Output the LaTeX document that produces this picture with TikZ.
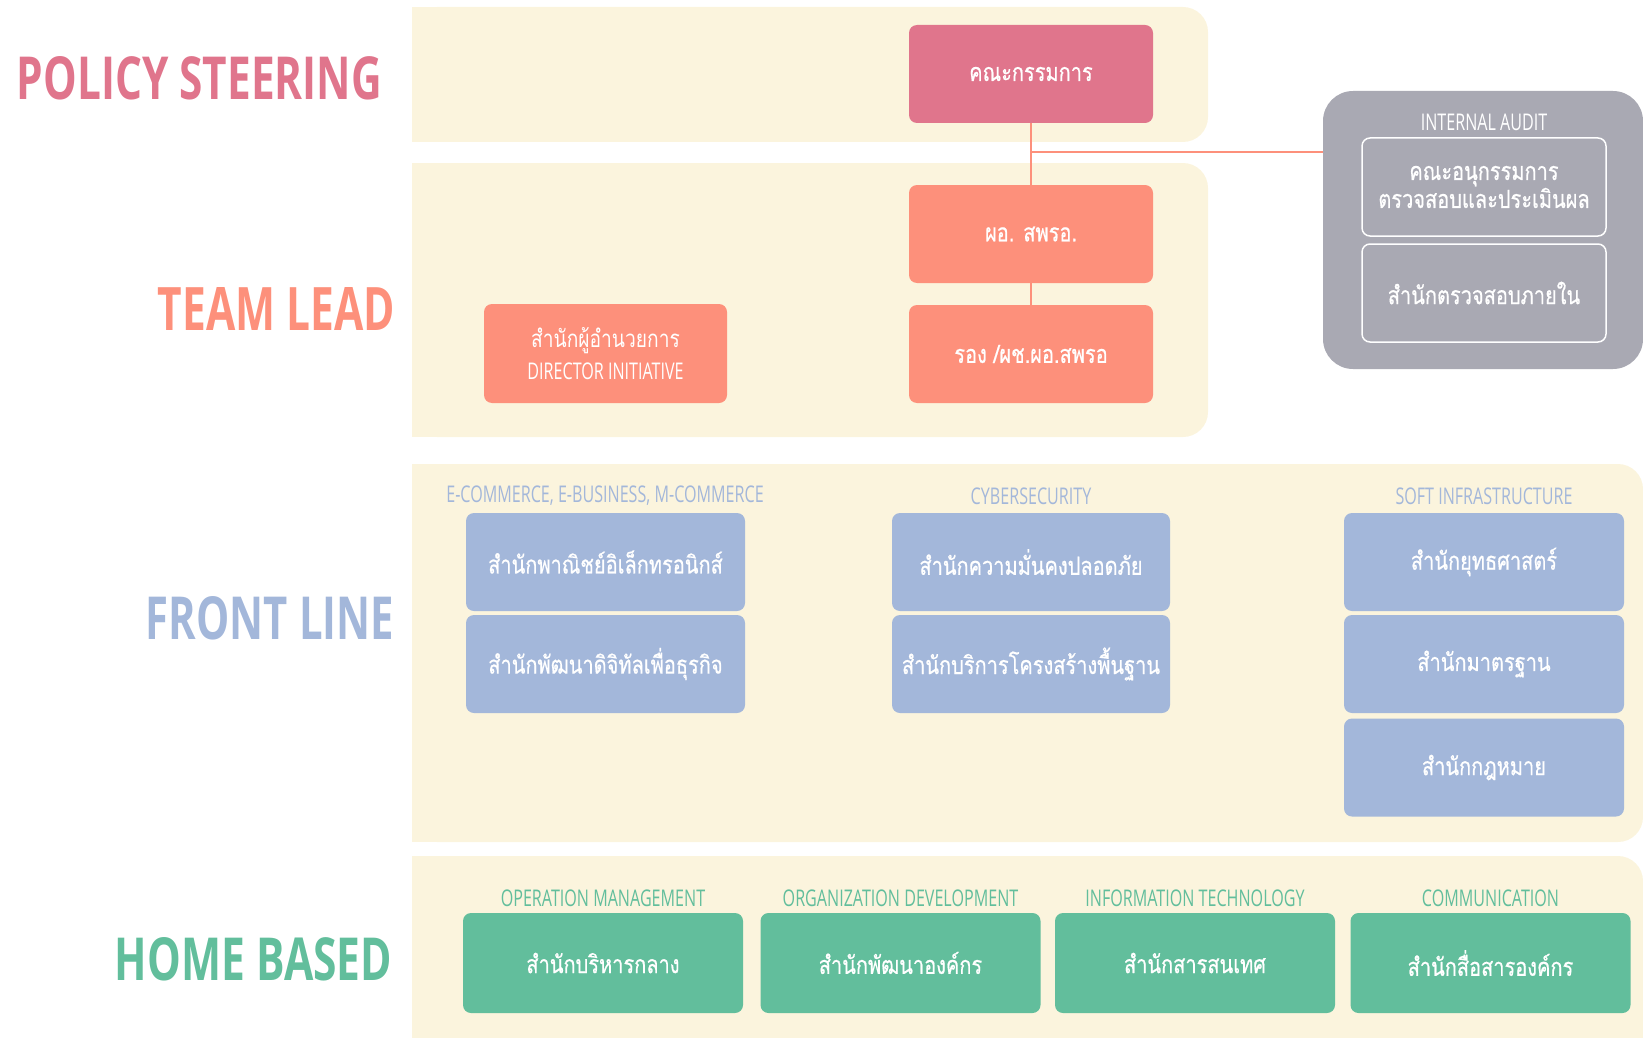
\documentclass[tikz,border=0pt]{standalone}
\usepackage{fontspec}
\usepackage{graphicx}
\setmainfont{Open Sans}
\newfontfamily\thaifont[Script=Thai, FakeStretch=0.8, FakeBold=0.6]{Loma}
\newfontfamily\thailight[Script=Thai, FakeStretch=0.8]{Loma}
\definecolor{cream}{HTML}{FBF4DD}
\definecolor{pinkc}{HTML}{E0758C}
\definecolor{salmon}{HTML}{FD907B}
\definecolor{blueb}{HTML}{A3B7DA}
\definecolor{greenb}{HTML}{62BE9C}
\definecolor{greyb}{HTML}{A9A9B3}
\newcommand{\condtxt}[1]{\scalebox{0.7}[1]{\fontsize{23}{23}\selectfont #1}}
\newcommand{\bigtxt}[2]{\resizebox{#1pt}{43pt}{\bfseries #2}}
\tikzset{
  band/.style={fill=cream},
  unit/.style={rounded corners=8pt, minimum width=#1, minimum height=98pt, inner sep=0pt,
    text=white, align=center, font=\thaifont\fontsize{25}{33}\selectfont},
  unit/.default=244pt,
  catlab/.style={inner sep=0pt, anchor=center},
  biglab/.style={inner sep=0pt, anchor=center},
  link/.style={draw=salmon, line width=2.5pt}
}
\begin{document}
\begin{tikzpicture}[x=1pt,y=-1pt]
\clip (0,0) rectangle (1643,1038);
% bands
\fill[band, rounded corners=25pt] (412,7) rectangle (1208,142);
\fill[band] (412,7) rectangle (700,142);
\fill[band, rounded corners=25pt] (412,163) rectangle (1208,437);
\fill[band] (412,163) rectangle (700,437);
\fill[band, rounded corners=25pt] (412,464) rectangle (1643,842);
\fill[band] (412,464) rectangle (700,842);
\fill[band, rounded corners=25pt] (412,856) rectangle (1643,1080);
\fill[band] (412,856) rectangle (700,1080);

% left labels
\node[biglab, text=pinkc] (lpolicy) at (199.5,78.5) {\bigtxt{365}{POLICY STEERING}};
\node[biglab, text=salmon] (lteam) at (276.5,309) {\bigtxt{237}{TEAM LEAD}};
\node[biglab, text=blueb] (lfront) at (270,618) {\bigtxt{248}{FRONT LINE}};
\node[biglab, text=greenb] (lhome) at (253.5,959) {\bigtxt{277}{HOME BASED}};

% internal audit container
\node[fill=greyb, rounded corners=30pt, minimum width=320pt, minimum height=278pt, inner sep=0pt] (audit) at (1483,230) {};
\node[catlab, text=white] (auditlab) at (1484,122) {\condtxt{INTERNAL AUDIT}};
\node[unit, draw=white, line width=1.5pt, fill=greyb, font=\thaifont\fontsize{25}{28}\selectfont] (sub) at (1484,187) {คณะอนุกรรมการ\\ตรวจสอบและประเมินผล};
\node[unit, draw=white, line width=1.5pt, fill=greyb] (iaoff) at (1484,293) {สำนักตรวจสอบภายใน};

% policy / team lead
\node[unit, fill=pinkc] (board) at (1031,74) {คณะกรรมการ};
\node[unit, fill=salmon] (dir) at (1031,234) {ผอ. สพรอ.};
\node[unit, fill=salmon] (dep) at (1031,354) {รอง /ผช.ผอ.สพรอ};
\node[unit=243pt, fill=salmon, minimum height=99pt, font=\thailight\fontsize{24}{30}\selectfont] (dinit) at (605.5,353.5) {สำนักผู้อำนวยการ\\[2pt]\normalfont\condtxt{DIRECTOR INITIATIVE}};

% connectors
\coordinate (j) at (1031,152);
\draw[link] (board.south) -- (dir.north);
\draw[link] (dir.south) -- (dep.north);
\draw[link] (j) -- (audit.west |- j);

% front line
\node[catlab, text=blueb] (c1) at (605,496) {\condtxt{E-COMMERCE, E-BUSINESS, M-COMMERCE}};
\node[catlab, text=blueb] (c2) at (1031,496) {\condtxt{CYBERSECURITY}};
\node[catlab, text=blueb] (c3) at (1484,496) {\condtxt{SOFT INFRASTRUCTURE}};
\node[unit=279pt, fill=blueb] (f11) at (605.5,562) {สำนักพาณิชย์อิเล็กทรอนิกส์};
\node[unit=279pt, fill=blueb] (f12) at (605.5,664) {สำนักพัฒนาดิจิทัลเพื่อธุรกิจ};
\node[unit=278pt, fill=blueb] (f21) at (1031,562) {สำนักความมั่นคงปลอดภัย};
\node[unit=278pt, fill=blueb] (f22) at (1031,664) {สำนักบริการโครงสร้างพื้นฐาน};
\node[unit=280pt, fill=blueb] (f31) at (1484,562) {สำนักยุทธศาสตร์};
\node[unit=280pt, fill=blueb] (f32) at (1484,664) {สำนักมาตรฐาน};
\node[unit=280pt, fill=blueb] (f33) at (1484,767.5) {สำนักกฎหมาย};

% home based
\node[catlab, text=greenb] (h1l) at (603,898) {\condtxt{OPERATION MANAGEMENT}};
\node[catlab, text=greenb] (h2l) at (900.5,898) {\condtxt{ORGANIZATION DEVELOPMENT}};
\node[catlab, text=greenb] (h3l) at (1195,898) {\condtxt{INFORMATION TECHNOLOGY}};
\node[catlab, text=greenb] (h4l) at (1490.5,898) {\condtxt{COMMUNICATION}};
\node[unit=280pt, fill=greenb, minimum height=100pt] (h1) at (603,963) {สำนักบริหารกลาง};
\node[unit=280pt, fill=greenb, minimum height=100pt] (h2) at (900.5,963) {สำนักพัฒนาองค์กร};
\node[unit=280pt, fill=greenb, minimum height=100pt] (h3) at (1195,963) {สำนักสารสนเทศ};
\node[unit=280pt, fill=greenb, minimum height=100pt] (h4) at (1490.5,963) {สำนักสื่อสารองค์กร};
\end{tikzpicture}
\end{document}
